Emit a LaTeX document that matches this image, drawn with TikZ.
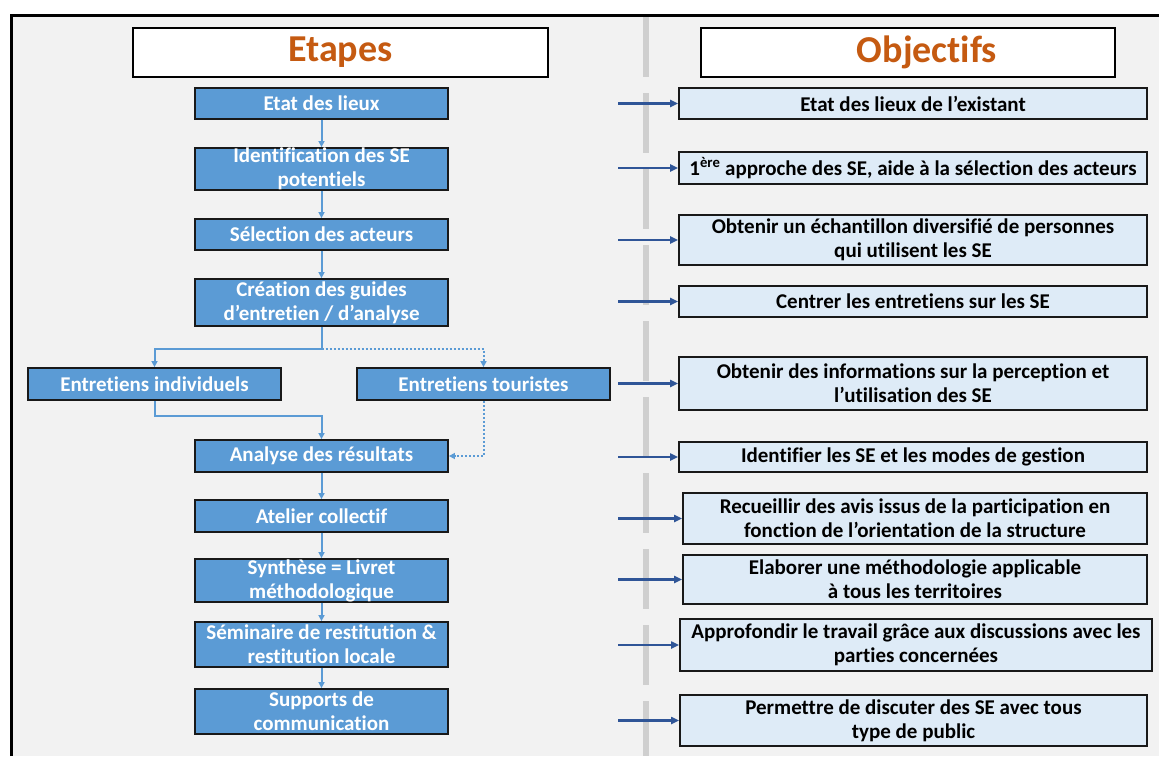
\documentclass[tikz,border=0pt]{standalone}
\usepackage{fontspec}
\setmainfont{Carlito}[Ligatures=NoCommon]
\usetikzlibrary{arrows.meta}
\definecolor{fond}{HTML}{F2F2F2}
\definecolor{bleu}{HTML}{5B9BD5}
\definecolor{bleuclair}{HTML}{DEEBF7}
\definecolor{bleufonce}{HTML}{2F5597}
\definecolor{orange}{HTML}{C55A11}
\definecolor{gris}{HTML}{CFCFCF}
\tikzset{
  etape/.style={draw=black!90, line width=1.8pt, fill=bleu, text=white, align=center,
    minimum width=253pt, inner sep=0pt, font=\fontsize{21}{24}\selectfont\bfseries},
  objectif/.style={draw=black!90, line width=1.8pt, fill=bleuclair, text=black, align=center,
    inner sep=0pt, font=\fontsize{21}{24}\selectfont\bfseries},
  titre/.style={draw=black, line width=2.2pt, fill=white, text=orange, minimum width=415pt,
    minimum height=49pt, font=\fontsize{38}{40}\selectfont\bfseries},
  fleche/.style={draw=bleu, line width=2pt, -{Triangle[length=6pt,width=6pt]}},
  flechepoint/.style={fleche, dash pattern=on 2pt off 2pt},
  flecheobj/.style={draw=bleufonce, line width=2.3pt, -{Triangle[length=8pt,width=7pt]}}
}
\begin{document}
\begin{tikzpicture}[x=1pt, y=-1pt]
    \useasboundingbox (0,0) rectangle (1159,756);
    % Fond et cadre
    \fill[fond] (11,15) rectangle (1159,756);
    \draw[line width=3pt] (11,756) -- (11,15) -- (1159,15);
    \draw[gris, line width=6pt, dash pattern=on 60pt off 16pt] (646,17) -- (646,756);

    % Titres
    \node[titre] (etapes) at (340.5,52.5) {Etapes\hspace{36pt}};
    \node[titre, minimum width=414pt] (objectifs) at (908,52.5) {\hspace{38pt}Objectifs};

    % Etapes
    \node[etape, minimum height=31pt] (etat) at (321.5,103.5) {Etat des lieux};
    \node[etape, minimum height=42pt] (ident) at (321.5,169) {Identification des SE\\potentiels};
    \node[etape, minimum height=31pt] (select) at (321.5,234.5) {Sélection des acteurs};
    \node[etape, minimum height=47pt] (guides) at (321.5,302.5) {Création des guides\\d’entretien / d’analyse};
    \node[etape, minimum height=32pt] (indiv) at (154.5,384) {Entretiens individuels};
    \node[etape, minimum height=32pt] (tour) at (483.5,384) {Entretiens touristes};
    \node[etape, minimum height=32pt] (analyse) at (321.5,456) {Analyse des résultats};
    \node[etape, minimum height=32pt] (atelier) at (321.5,516) {Atelier collectif};
    \node[etape, minimum height=43pt] (synth) at (321.5,580.5) {Synthèse = Livret\\méthodologique};
    \node[etape, minimum height=45pt] (semin) at (321.5,644.5) {Séminaire de restitution \&\\restitution locale};
    \node[etape, minimum height=45pt] (supp) at (321.5,711.5) {Supports de\\communication};

    % Liens entre etapes
    \foreach \a/\b in {etat/ident, ident/select, select/guides, analyse/atelier,
                       atelier/synth, synth/semin, semin/supp}
        \draw[fleche] (\a) -- (\b);
    \draw[fleche] (guides.south) -- ++(0,22) -| (indiv.north);
    \draw[flechepoint] (guides.south) ++(0,22) -| (tour.north);
    \draw[fleche] (indiv.south) -- ++(0,15) -| (analyse.north);
    \draw[flechepoint] (tour.south) |- (analyse.east);

    % Objectifs
    \node[objectif, minimum width=468pt, minimum height=31pt] (oEtat) at (913,103.5) {Etat des lieux de l’existant};
    \node[objectif, minimum width=468pt, minimum height=32pt] (oIdent) at (913,168) {1\textsuperscript{ère} approche des SE, aide à la sélection des acteurs};
    \node[objectif, minimum width=468pt, minimum height=50pt] (oSelect) at (913,240) {Obtenir un échantillon diversifié de personnes\\qui utilisent les SE};
    \node[objectif, minimum width=468pt, minimum height=31pt] (oGuides) at (913,301.5) {Centrer les entretiens sur les SE};
    \node[objectif, minimum width=468pt, minimum height=53pt] (oEntret) at (913,383.5) {Obtenir des informations sur la perception et\\l’utilisation des SE};
    \node[objectif, minimum width=468pt, minimum height=30pt] (oAnalyse) at (913,457) {Identifier les SE et les modes de gestion};
    \node[objectif, minimum width=464pt, minimum height=51pt] (oAtelier) at (915,518.5) {Recueillir des avis issus de la participation en\\fonction de l’orientation de la structure};
    \node[objectif, minimum width=464pt, minimum height=49pt] (oSynth) at (915,579.5) {Elaborer une méthodologie applicable\\à tous les territoires};
    \node[objectif, minimum width=472pt, minimum height=52pt] (oSemin) at (916,645) {Approfondir le travail grâce aux discussions avec les\\parties concernées};
    \node[objectif, minimum width=467pt, minimum height=51pt] (oSupp) at (913.5,720.5) {Permettre de discuter des SE avec tous\\type de public};

    % Fleches vers les objectifs
    \coordinate (depart) at (618,0);
    \foreach \o in {oEtat, oIdent, oSelect, oGuides, oEntret, oAnalyse, oAtelier, oSynth, oSemin, oSupp}
        \draw[flecheobj] (\o.west -| depart) -- (\o.west);
\end{tikzpicture}
\end{document}
